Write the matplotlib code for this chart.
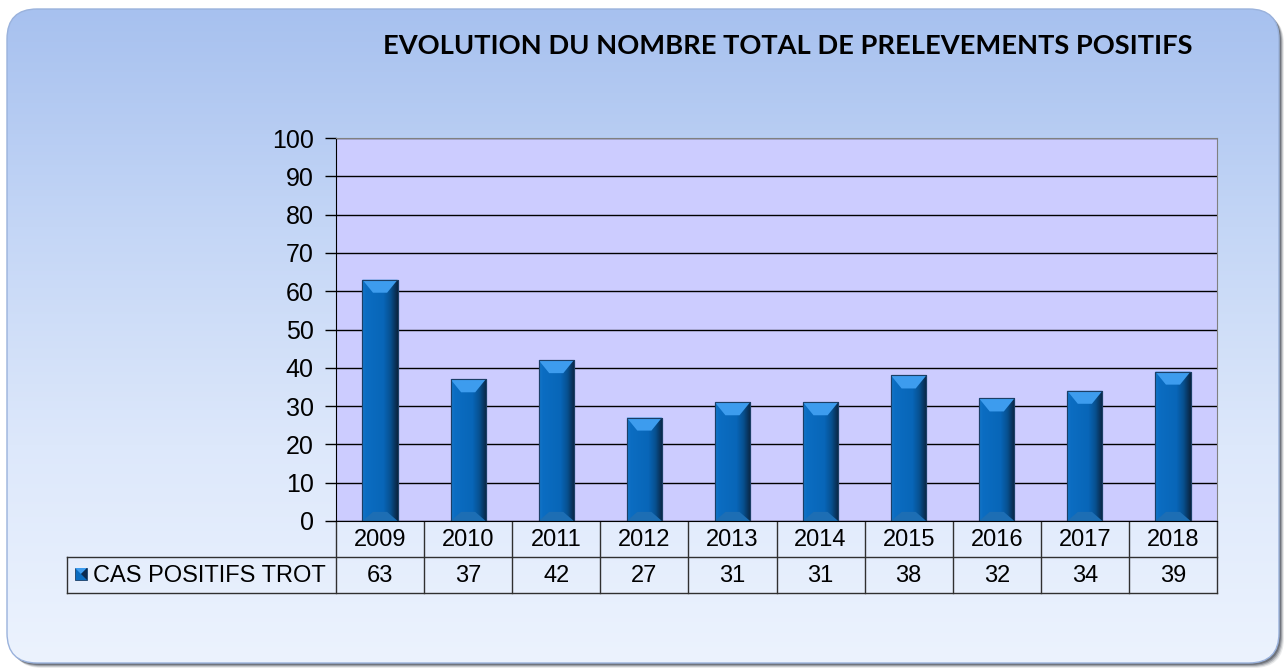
import numpy as np
import matplotlib.pyplot as plt
from matplotlib.patches import FancyBboxPatch, Polygon, Rectangle
from matplotlib.colors import LinearSegmentedColormap

# donnees
annees = ['2009', '2010', '2011', '2012', '2013', '2014', '2015', '2016', '2017', '2018']
cas_positifs = [63, 37, 42, 27, 31, 31, 38, 32, 34, 39]
serie = 'CAS POSITIFS TROT'
titre = 'EVOLUTION DU NOMBRE TOTAL DE PRELEVEMENTS POSITIFS'

W, H = 1287, 671
police = ['Liberation Sans', 'DejaVu Sans']

fig = plt.figure(figsize=(W / 100, H / 100), dpi=100)

# fond : cadre arrondi avec degrade et ombre
bg = fig.add_axes([0, 0, 1, 1], zorder=0)
for k, a in [(5, 0.10), (4, 0.18), (3, 0.28), (2, 0.4)]:
    bg.add_patch(FancyBboxPatch((7 + k, 9 + k), 1272, 654,
                                boxstyle='round,pad=0,rounding_size=30',
                                fc='#2e3440', ec='none', alpha=a))
cadre = FancyBboxPatch((7, 9), 1272, 654, boxstyle='round,pad=0,rounding_size=30',
                       fc='none', ec='#9ab2dc', lw=1, zorder=3)
bg.add_patch(cadre)
degrade = np.linspace(0, 1, 256).reshape(-1, 1)
cmap_fond = LinearSegmentedColormap.from_list('fond', ['#a7c1ef', '#c4d6f6', '#dde8fb', '#ecf3fe'])
im = bg.imshow(degrade, cmap=cmap_fond, extent=[7, 1279, 663, 9], aspect='auto', zorder=1)
im.set_clip_path(cadre)
bg.set_xlim(0, W)
bg.set_ylim(H, 0)
bg.axis('off')

bg.text(788, 46, titre, ha='center', va='center', fontsize=19.6, fontweight='bold',
        family=['Lato', 'DejaVu Sans'], color='black', zorder=4)

# graphique
ax = fig.add_axes([336 / W, 1 - 521 / H, 881 / W, 383 / H], zorder=1)
ax.set_facecolor('#ccccff')
ax.set_xlim(0, 10)
ax.set_ylim(0, 100)
ax.set_yticks(range(0, 101, 10))
ax.set_xticks([])
ax.yaxis.grid(True, color='black', lw=1)
ax.set_axisbelow(True)
ax.tick_params(axis='y', length=8, width=1, labelsize=18, pad=8)
for lab in ax.get_yticklabels():
    lab.set_family(police)
for s in ['top', 'right']:
    ax.spines[s].set_color('#808080')
ax.spines['bottom'].set_color('black')
ax.spines['left'].set_color('black')

x = np.arange(len(annees)) + 0.5
larg = 0.4
barres = ax.bar(x, cas_positifs, width=larg, color='#0a6cc0', ec='#1c3f66', lw=0.8, zorder=2)

cmap_barre = LinearSegmentedColormap.from_list(
    'barre', [(0, '#1576c8'), (0.1, '#0b6dc2'), (0.6, '#0866b8'), (0.8, '#07508f'), (1, '#0a2440')])
grad_h = np.linspace(0, 1, 64).reshape(1, -1)
# bevel en unites de donnees (~13 px)
bev = 13 / (383 / 100)
for b, v in zip(barres, cas_positifs):
    x0 = b.get_x()
    x1 = x0 + b.get_width()
    img = ax.imshow(grad_h, cmap=cmap_barre, extent=[x0, x1, 0, v], aspect='auto', zorder=2.1)
    img.set_clip_path(b)
    ax.add_patch(Polygon([(x0, v), (x1, v), (x1 - larg * 0.3, v - bev), (x0 + larg * 0.3, v - bev)],
                         closed=True, fc='#3d9cee', ec='none', zorder=2.2))
    ax.add_patch(Polygon([(x0, 0), (x1, 0), (x1 - larg * 0.3, bev * 0.7), (x0 + larg * 0.3, bev * 0.7)],
                         closed=True, fc='#1d6eb4', ec='none', zorder=2.2))
    ax.add_patch(Rectangle((x0, 0), larg, v, fc='none', ec='#1c3f66', lw=0.8, zorder=2.3))
ax.set_xlim(0, 10)
ax.set_ylim(0, 100)

# tableau de donnees
tx0, tx1 = 336, 1217
cw = (tx1 - tx0) / len(annees)
ty0, ty1, ty2 = 521, 557, 593
lx = 67
coul = '#303030'
bg.plot([lx, tx1], [ty1, ty1], color=coul, lw=1, zorder=4)
bg.plot([lx, tx1], [ty2, ty2], color=coul, lw=1, zorder=4)
bg.plot([lx, lx], [ty1, ty2], color=coul, lw=1, zorder=4)
for k in range(len(annees) + 1):
    bg.plot([tx0 + k * cw] * 2, [ty0, ty2], color=coul, lw=1, zorder=4)
for i, (a, v) in enumerate(zip(annees, cas_positifs)):
    cx = tx0 + (i + 0.5) * cw
    bg.text(cx, (ty0 + ty1) / 2 + 1, a, ha='center', va='center', fontsize=17, family=police, zorder=4)
    bg.text(cx, (ty1 + ty2) / 2 + 1, str(v), ha='center', va='center', fontsize=17, family=police, zorder=4)
bg.text(93, (ty1 + ty2) / 2 + 1, serie, ha='left', va='center', fontsize=17, family=police, zorder=4)

# cle de legende
cle = Rectangle((75, 568), 12, 12, fc='#0a6cc0', ec='#1c3f66', lw=0.6, zorder=4)
bg.add_patch(cle)
bg.add_patch(Polygon([(75, 568), (87, 568), (81, 574)], closed=True, fc='#3d9cee', zorder=5))
bg.add_patch(Polygon([(87, 568), (87, 580), (81, 574)], closed=True, fc='#0a2a50', zorder=5))

fig.savefig('out.png', dpi=100)
